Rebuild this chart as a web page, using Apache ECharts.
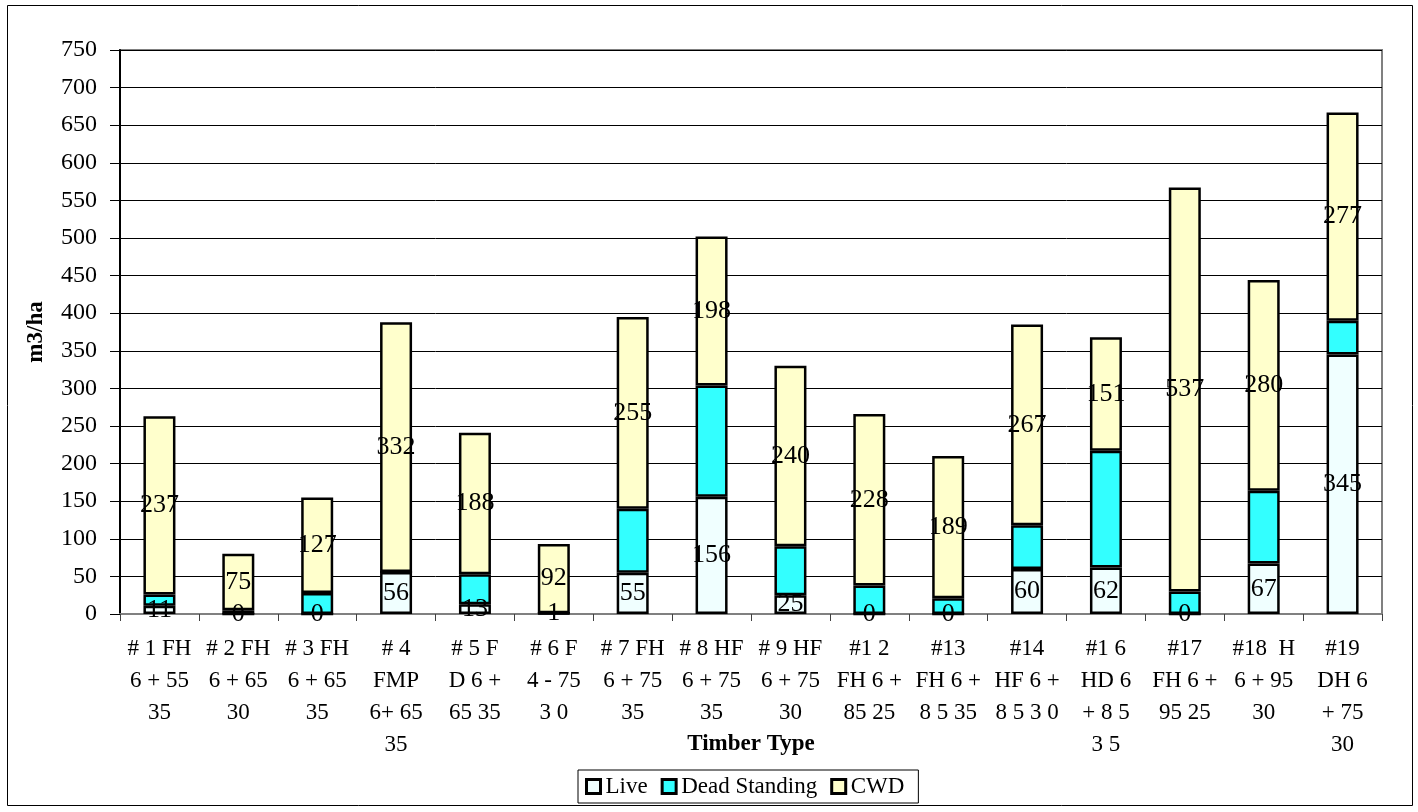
<!DOCTYPE html>
<html>
<head>
<meta charset="utf-8">
<script src="https://cdn.jsdelivr.net/npm/echarts@6/dist/echarts.min.js"></script>
<style>
html,body{margin:0;padding:0;background:#fff;}
#chart{width:1418px;height:812px;}
</style>
</head>
<body>
<div id="chart"></div>
<script>
var categories = [
  "# 1 FH\n6 + 55\n35",
  "# 2 FH\n6 + 65\n30",
  "# 3 FH\n6 + 65\n35",
  "# 4\nFMP\n6+ 65\n35",
  "# 5 F\nD 6 +\n65 35",
  "# 6 F\n4 - 75\n3 0",
  "# 7 FH\n6 + 75\n35",
  "# 8 HF\n6 + 75\n35",
  "# 9 HF\n6 + 75\n30",
  "#1 2\nFH 6 +\n85 25",
  "#13\nFH 6 +\n8 5 35",
  "#14\nHF 6 +\n8 5 3 0",
  "#1 6\nHD 6\n+ 8 5\n3 5",
  "#17\nFH 6 +\n95 25",
  "#18  H\n6 + 95\n30",
  "#19\nDH 6\n+ 75\n30"
];
var liveValues = [11, 0, 0, 56, 13, 1, 55, 156, 25, 0, 0, 60, 62, 0, 67, 345];
var deadValues = [15, 5, 28, 0, 40, 0, 85, 148, 65, 38, 21, 58, 155, 30, 97, 45];
var cwdValues  = [237, 75, 127, 332, 188, 92, 255, 198, 240, 228, 189, 267, 151, 537, 280, 277];
var seriesNames = ["Live", "Dead Standing", "CWD"];

var FONT = "'Liberation Serif', 'Times New Roman', serif";
var chart = echarts.init(document.getElementById('chart'), null, {renderer: 'canvas'});

function labelCfg(show) {
  return {
    show: show,
    position: 'inside',
    color: '#000',
    fontFamily: FONT,
    fontSize: 26,
    textBorderWidth: 0
  };
}
var itemBase = {borderColor: '#000', borderWidth: 2.5};

var option = {
  backgroundColor: '#fff',
  animation: false,
  textStyle: {fontFamily: FONT},
  graphic: [{
    type: 'rect',
    shape: {x: 7.5, y: 5.5, width: 1405, height: 800},
    style: {fill: 'none', stroke: '#000', lineWidth: 1},
    silent: true
  }],
  grid: {
    left: 120, right: 36, top: 50, bottom: 198,
    show: true, borderColor: '#808080', borderWidth: 2,
    containLabel: false,
    outerBoundsMode: 'none'
  },
  legend: {
    data: seriesNames,
    left: 578, top: 770,
    orient: 'horizontal',
    borderColor: '#000', borderWidth: 1,
    padding: [5, 14, 5, 7],
    itemWidth: 14, itemHeight: 14, itemGap: 13,
    icon: 'rect',
    textStyle: {fontFamily: FONT, fontSize: 23, color: '#000'},
    itemStyle: {borderColor: '#000', borderWidth: 3}
  },
  xAxis: {
    type: 'category',
    data: categories,
    name: 'Timber Type',
    nameLocation: 'middle',
    nameGap: 119,
    nameMoveOverlap: false,
    nameTextStyle: {fontFamily: FONT, fontSize: 23, fontWeight: 'bold', color: '#000'},
    axisLine: {show: true, lineStyle: {color: '#808080', width: 2}},
    axisTick: {show: true, alignWithLabel: false, length: 7, lineStyle: {color: '#404040', width: 1}},
    axisLabel: {interval: 0, margin: 19, fontFamily: FONT, fontSize: 23, lineHeight: 32, color: '#000'},
    splitLine: {show: false}
  },
  yAxis: {
    type: 'value',
    min: 0, max: 750, interval: 50,
    name: 'm3/ha',
    nameLocation: 'middle',
    nameGap: 72,
    nameRotate: 90,
    nameMoveOverlap: false,
    nameTextStyle: {fontFamily: FONT, fontSize: 23, fontWeight: 'bold', color: '#000'},
    axisLine: {show: true, lineStyle: {color: '#000', width: 2}},
    axisTick: {show: true, length: 10, lineStyle: {color: '#000', width: 1}},
    axisLabel: {margin: 23, fontFamily: FONT, fontSize: 24, color: '#000'},
    splitLine: {show: true, lineStyle: {color: '#000', width: 1}}
  },
  series: [
    {
      name: seriesNames[0], type: 'bar', stack: 'total', barWidth: 32,
      data: liveValues,
      itemStyle: Object.assign({color: '#F0FFFF'}, itemBase),
      label: labelCfg(true),
      z: 3
    },
    {
      name: seriesNames[1], type: 'bar', stack: 'total', barWidth: 32,
      data: deadValues,
      itemStyle: Object.assign({color: '#33FFFF'}, itemBase),
      label: labelCfg(false),
      z: 2
    },
    {
      name: seriesNames[2], type: 'bar', stack: 'total', barWidth: 32,
      data: cwdValues,
      itemStyle: Object.assign({color: '#FFFFCC'}, itemBase),
      label: labelCfg(true),
      z: 2
    }
  ]
};
chart.setOption(option);
</script>
</body>
</html>
